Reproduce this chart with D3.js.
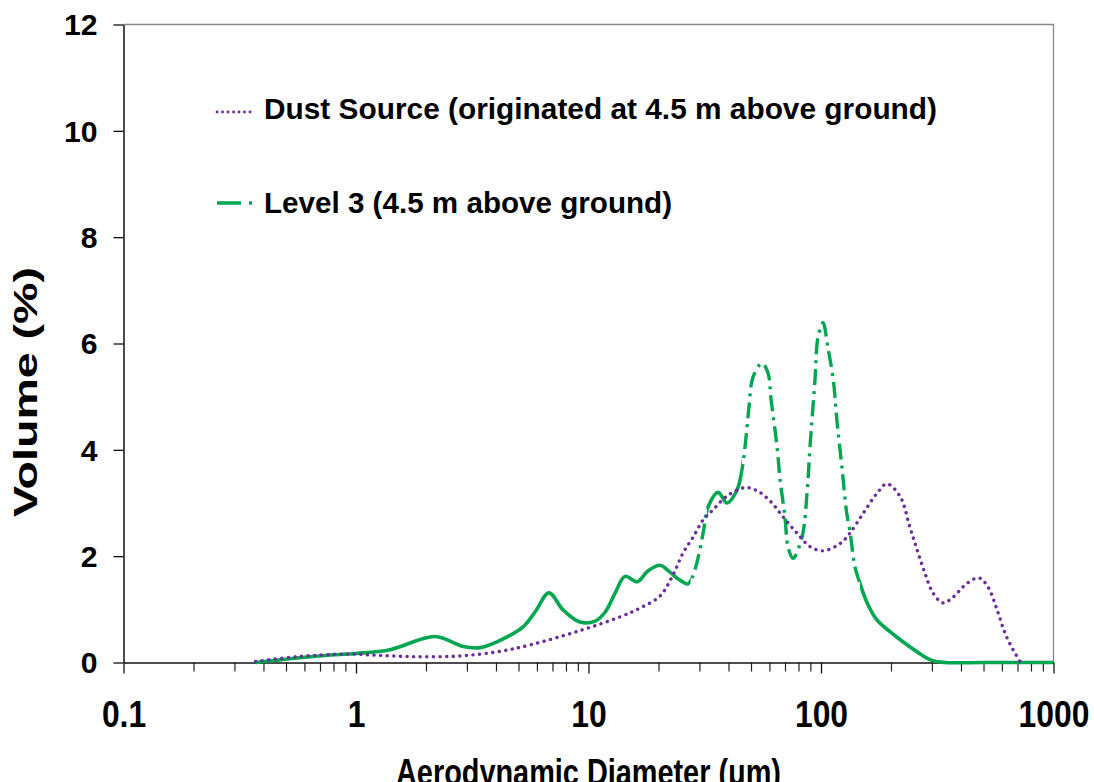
<!DOCTYPE html>
<html>
<head>
<meta charset="utf-8">
<script src="https://cdn.jsdelivr.net/npm/d3@7/dist/d3.min.js"></script>
<style>
body{margin:0;background:#fff;}
svg{display:block;}
</style>
</head>
<body>
<svg id="chart"></svg>
<script>
// ---- data ----
var dustDiam=[0.37,0.558,0.915,1.18,1.76,2.72,4.04,5.6,9.19,13.7,16.6,20.3,23.1,25.5,28.2,31.1,34.3,39.4,47.1,53.1,60.3,68.7,78.9,89.7,102,121,133,152,174,192,219,241,259,280,303,335,370,425,478,523,572,619,670,718];
var dustVol=[0.02,0.11,0.16,0.14,0.11,0.12,0.2,0.33,0.6,0.86,1.02,1.25,1.65,2.06,2.36,2.68,2.87,3.13,3.29,3.23,3.04,2.74,2.43,2.18,2.1,2.24,2.43,2.81,3.18,3.36,3.12,2.55,2.12,1.68,1.31,1.12,1.23,1.49,1.59,1.42,0.99,0.55,0.24,0.02];

var levelDiam=[0.37,0.773,1.0,1.4,2.19,2.89,3.42,4.04,5.23,5.89,6.76,7.77,9.19,10.7,11.8,13.0,14.35,16.2,18.0,20.3,22.4,24.7,26.8,28.7,31.1,32.7,36.1,39.4,43.5,45.7,47.6,49.0,51.0,55.8,59.2,61.0,64.7,66.7,70.0,72.1,75.8,82.9,87.1,89.7,94.2,97.1,102,107,113,117,123,129,133,140,147,158,174,198,225,259,300,342,500,1000];
var levelVol=[0.0,0.14,0.17,0.24,0.49,0.3,0.28,0.39,0.67,0.95,1.31,0.99,0.76,0.78,0.95,1.3,1.62,1.52,1.72,1.83,1.7,1.55,1.48,1.75,2.43,2.93,3.2,3.0,3.24,3.62,4.24,4.8,5.37,5.63,5.44,4.94,4.06,3.43,2.74,2.18,1.96,2.36,3.19,4.06,5.31,6.12,6.39,5.93,5.31,4.56,3.68,2.81,2.49,1.8,1.49,1.12,0.8,0.58,0.39,0.2,0.04,0.0,0.0,0.0];
// parts of the Level 3 curve drawn dash-dot in the original (diameter ranges)
var levelDashRanges=[[27.5,32.3],[45.7,147]];

var xMajorTicks=[0.1,1,10,100,1000];
var xTickLabels=["0.1","1","10","100","1000"];
var yTicks=[0,2,4,6,8,10,12];
var seriesNames=["Dust Source (originated at 4.5 m above ground)","Level 3 (4.5 m above ground)"];

(function() {
var W=1094, H=782;
var m_left=123.5, m_right=1053.5, m_top=24.5, m_bottom=662.5;
var purple="#6b2c9c", green="#00a650";
var boldFont="'Liberation Sans', Arial, sans-serif";

var svg=d3.select("#chart").attr("width",W).attr("height",H);

var x=d3.scaleLog().domain([0.1,1000]).range([m_left,m_right]);
var y=d3.scaleLinear().domain([0,12]).range([m_bottom,m_top]);

// stretch / squeeze a text to a width factor of its natural length
function squeeze(sel,f) {
    sel.each(function() {
        var w=this.getComputedTextLength();
        d3.select(this).attr("textLength",w*f).attr("lengthAdjust","spacingAndGlyphs");
    });
}

// plot frame (top and right, grey)
svg.append("path")
    .attr("d","M"+m_left+","+m_top+"H"+m_right+"V"+m_bottom)
    .attr("fill","none").attr("stroke","#888").attr("stroke-width",1.3);

// minor x ticks
var minor=x.ticks().filter(function(d){return xMajorTicks.indexOf(d)<0;});
svg.append("g")
    .attr("transform","translate(0,"+m_bottom+")")
    .call(d3.axisBottom(x).tickValues(minor).tickSize(9).tickSizeOuter(0).tickFormat(""))
    .call(function(g){g.select(".domain").remove();})
    .selectAll("line").attr("stroke","#222").attr("stroke-width",1.2);

// major x ticks + labels
var gx=svg.append("g")
    .attr("transform","translate(0,"+m_bottom+")")
    .call(d3.axisBottom(x).tickValues(xMajorTicks).tickSize(11).tickSizeOuter(0)
        .tickFormat(function(d,i){return xTickLabels[i];}));
gx.select(".domain").attr("stroke","#111").attr("stroke-width",1.5);
gx.selectAll("line").attr("stroke","#111").attr("stroke-width",1.3);
gx.selectAll("text")
    .attr("y",64.5).attr("dy",0)
    .attr("fill","#000")
    .style("font-family",boldFont).style("font-weight","bold").style("font-size","37px")
    .call(squeeze,0.86);

// y axis
var gy=svg.append("g")
    .attr("transform","translate("+m_left+",0)")
    .call(d3.axisLeft(y).tickValues(yTicks).tickSize(10).tickPadding(16).tickSizeOuter(0));
gy.select(".domain").attr("stroke","#111").attr("stroke-width",1.5);
gy.selectAll("line").attr("stroke","#111").attr("stroke-width",1.3);
gy.selectAll("text")
    .attr("fill","#000").attr("dy","0.36em")
    .style("font-family",boldFont).style("font-weight","bold").style("font-size","29px")
    .call(squeeze,1.04);

// axis titles
svg.append("text")
    .attr("x",(m_left+m_right)/2).attr("y",785)
    .attr("text-anchor","middle")
    .style("font-family",boldFont).style("font-weight","bold").style("font-size","37px")
    .text("Aerodynamic Diameter (μm)")
    .call(squeeze,0.78);

svg.append("text")
    .attr("transform","translate(37,392) rotate(-90)")
    .attr("text-anchor","middle")
    .style("font-family",boldFont).style("font-weight","bold").style("font-size","33px")
    .text("Volume (%)")
    .attr("textLength",250).attr("lengthAdjust","spacingAndGlyphs");

// curves
var line=d3.line()
    .x(function(d){return x(d[0]);})
    .y(function(d){return y(d[1]);})
    .curve(d3.curveCatmullRom.alpha(0.5));

var levelData=d3.zip(levelDiam,levelVol);
var dustData=d3.zip(dustDiam,dustVol);

// clip regions: dash-dot parts and solid parts of Level 3
var defs=svg.append("defs");
var clipDash=defs.append("clipPath").attr("id","clipDash");
levelDashRanges.forEach(function(r){
    clipDash.append("rect").attr("x",x(r[0])).attr("y",0).attr("width",x(r[1])-x(r[0])).attr("height",H);
});
var clipSolid=defs.append("clipPath").attr("id","clipSolid");
var edges=[0.05].concat(d3.merge(levelDashRanges)).concat([2000]);
for (var i=0;i<edges.length;i+=2) {
    clipSolid.append("rect").attr("x",x(edges[i])).attr("y",0).attr("width",x(edges[i+1])-x(edges[i])).attr("height",H);
}

svg.append("path")
    .attr("d",line(levelData))
    .attr("clip-path","url(#clipSolid)")
    .attr("fill","none").attr("stroke",green).attr("stroke-width",3.6)
    .attr("stroke-linejoin","round");
svg.append("path")
    .attr("d",line(levelData))
    .attr("clip-path","url(#clipDash)")
    .attr("fill","none").attr("stroke",green).attr("stroke-width",3.4)
    .attr("stroke-dasharray","16,6,3,6");

svg.append("path")
    .attr("d",line(dustData))
    .attr("fill","none").attr("stroke",purple).attr("stroke-width",3.4)
    .attr("stroke-linecap","round").attr("stroke-dasharray","0.1,6.5");

// legend
var legend=svg.append("g");
legend.append("line")
    .attr("x1",217).attr("x2",255).attr("y1",112).attr("y2",112)
    .attr("stroke",purple).attr("stroke-width",2.8)
    .attr("stroke-linecap","round").attr("stroke-dasharray","0.1,5.4");
legend.append("line")
    .attr("x1",217).attr("x2",256).attr("y1",203).attr("y2",203)
    .attr("stroke",green).attr("stroke-width",3.4)
    .attr("stroke-dasharray","24,8,3,20");
var legendY=[119,213], legendW=[673,408];
seriesNames.forEach(function(s,i){
    legend.append("text")
        .attr("x",264).attr("y",legendY[i])
        .style("font-family",boldFont).style("font-weight","bold").style("font-size","29px")
        .attr("textLength",legendW[i]).attr("lengthAdjust","spacingAndGlyphs")
        .text(s);
});
})();
</script>
</body>
</html>
